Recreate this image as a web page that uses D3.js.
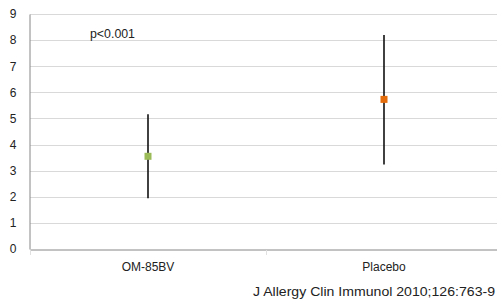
<!DOCTYPE html>
<html><head><meta charset="utf-8">
<script src="https://cdn.jsdelivr.net/npm/d3@7"></script>
<style>body{margin:0;background:#fff}svg{display:block}text{font-family:"Liberation Sans",Arial,sans-serif;fill:#222}</style>
</head><body>
<svg id="c" width="497" height="306"></svg>
<script>
const categories = ["OM-85BV", "Placebo"];
const means = [3.55, 5.73];
const lows = [1.94, 3.24];
const highs = [5.16, 8.2];
const colors = ["#9BBB59", "#E46C0A"];
const yTicks = [0,1,2,3,4,5,6,7,8,9];
const annotation = "p<0.001";
const citation = "J Allergy Clin Immunol 2010;126:763-9";

const svg = d3.select("#c");
const y = d3.scaleLinear().domain([0,9]).range([249,14]);
const x = d3.scaleBand().domain(categories).range([30,502]);

svg.append("g").selectAll("line").data(yTicks.filter(d=>d>0)).join("line")
  .attr("x1",30).attr("x2",497).attr("y1",d=>Math.round(y(d))+0.5).attr("y2",d=>Math.round(y(d))+0.5)
  .attr("stroke","#d9d9d9").attr("stroke-width",1);

const ya = svg.append("g").attr("transform","translate(29.5,0)")
  .call(d3.axisLeft(y).tickValues(yTicks).tickSize(0).tickPadding(13));
ya.select(".domain").attr("stroke","#868686");
ya.selectAll("text").style("font-size","12px").attr("fill","#222");

const xa = svg.append("g").attr("transform","translate(0,249.5)")
  .call(d3.axisBottom(x).tickSize(0).tickPadding(13));
xa.select(".domain").attr("stroke","#868686");
xa.selectAll("text").style("font-size","12px").attr("fill","#222");
svg.append("g").selectAll("line").data([x.range()[0], x(categories[1])]).join("line")
  .attr("x1",d=>Math.round(d)+0.5).attr("x2",d=>Math.round(d)+0.5).attr("y1",250).attr("y2",255)
  .attr("stroke","#e0e0e0");

svg.append("g").selectAll("line").data(categories).join("line")
  .attr("x1",d=>x(d)+x.bandwidth()/2).attr("x2",d=>x(d)+x.bandwidth()/2)
  .attr("y1",(d,i)=>y(highs[i])).attr("y2",(d,i)=>y(lows[i]))
  .attr("stroke","#111").attr("stroke-width",1.6);

svg.append("g").selectAll("rect").data(categories).join("rect")
  .attr("x",d=>x(d)+x.bandwidth()/2-3.5).attr("y",(d,i)=>y(means[i])-3.5)
  .attr("width",7).attr("height",7).attr("fill",(d,i)=>colors[i]);

svg.append("text").attr("x",90).attr("y",38).style("font-size","12px")
  .attr("textLength",45).attr("lengthAdjust","spacingAndGlyphs").text(annotation);
svg.append("text").attr("x",253).attr("y",296).style("font-size","12px")
  .attr("textLength",242).attr("lengthAdjust","spacingAndGlyphs").text(citation);
</script>
</body></html>
